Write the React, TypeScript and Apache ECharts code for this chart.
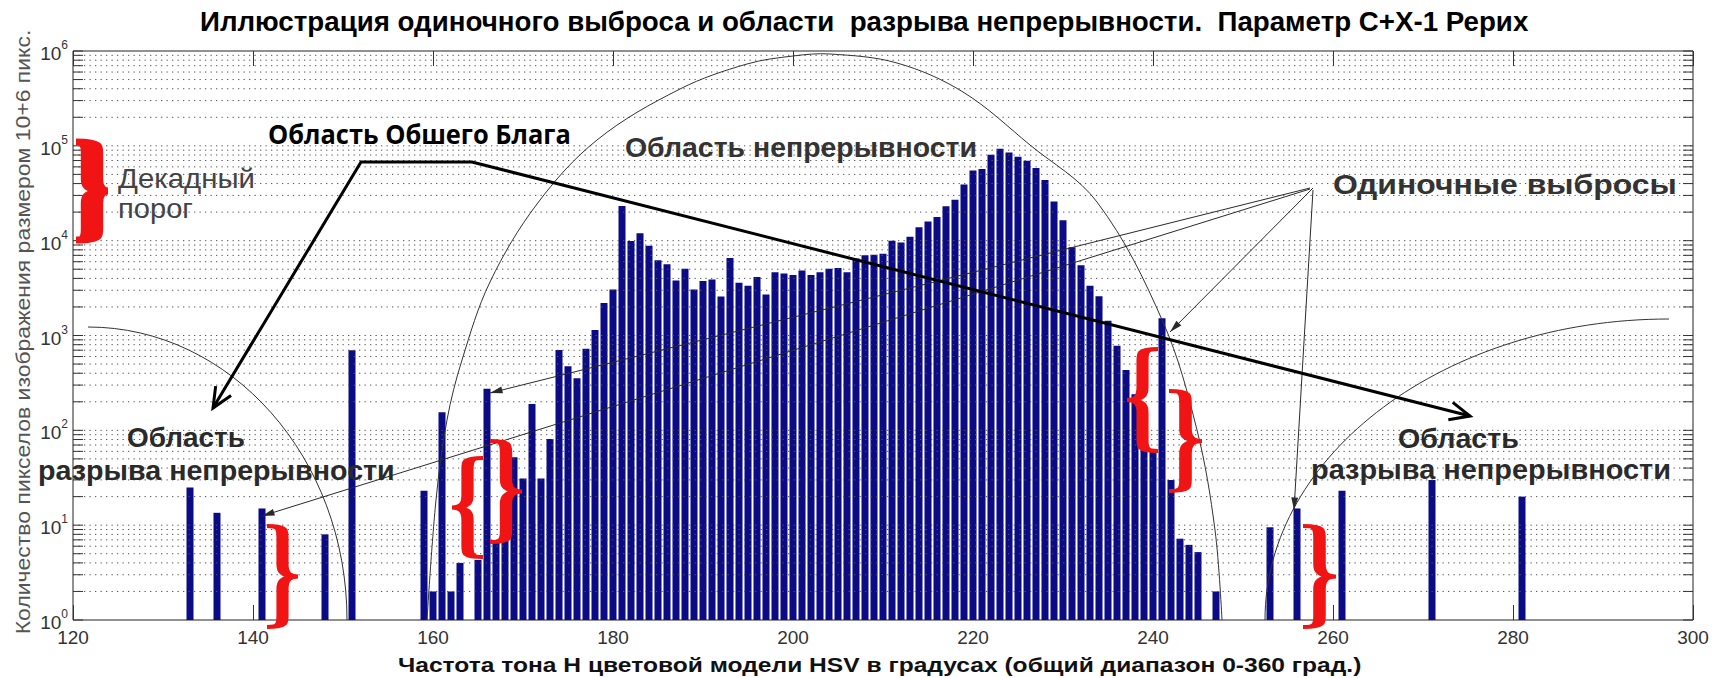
import React, { useEffect, useRef } from 'react';
import * as echarts from 'echarts';

// ---------------- data ----------------
const hues = [
  133, 136, 141, 148, 151, 159, 160, 161, 162, 163,
  165, 166, 167, 168, 169, 170, 171, 172, 173, 174,
  175, 176, 177, 178, 179, 180, 181, 182, 183, 184,
  185, 186, 187, 188, 189, 190, 191, 192, 193, 194,
  195, 196, 197, 198, 199, 200, 201, 202, 203, 204,
  205, 206, 207, 208, 209, 210, 211, 212, 213, 214,
  215, 216, 217, 218, 219, 220, 221, 222, 223, 224,
  225, 226, 227, 228, 229, 230, 231, 232, 233, 234,
  235, 236, 237, 238, 239, 240, 241, 242, 243, 244,
  245, 247, 253, 256, 261, 271, 281,
];
const counts = [
  25, 13.5, 15, 8, 700, 23, 2, 155, 2, 4,
  4.3, 275, 6.5, 9, 52, 31, 190, 31, 81, 705,
  475, 355, 725, 1140, 2200, 3050, 23200, 9900, 12000, 8850,
  6200, 5650, 3800, 5050, 3050, 3750, 3900, 2580, 6550, 3600,
  3350, 4150, 2700, 4650, 4500, 4350, 4850, 4350, 4650, 5050,
  5150, 4650, 6500, 7000, 7100, 7300, 10000, 9550, 11000, 13850,
  15950, 17800, 23000, 27000, 39000, 55000, 57000, 80500, 93000, 85000,
  76500, 69500, 58500, 43500, 25900, 16400, 8500, 5500, 3350, 2600,
  1430, 780, 432, 240, 150, 61, 1520, 30, 7.2, 6.2,
  5.2, 2, 9.5, 15, 23, 30, 20,
];
const xTickMin = 120;
const xTickMax = 300;
const xTickStep = 20;
const decades = [1, 10, 100, 1000, 10000, 100000];
const mantissas = [1, 2, 3, 4, 5, 6, 7, 8, 9];
const yTickValues: number[] = [];
decades.forEach((d) => mantissas.forEach((m) => yTickValues.push(m * d)));
yTickValues.push(1000000);

const TITLE = 'Иллюстрация одиночного выброса и области  разрыва непрерывности.  Параметр С+Х-1 Рерих';
const X_NAME = 'Частота тона Н цветовой модели HSV в градусах (общий диапазон 0-360 град.)';
const Y_NAME = 'Количество пикселов изображения размером 10+6 пикс.';

const ARIAL = '"Liberation Sans", Arial, sans-serif';
const CALIBRI = '"Open Sans", "Noto Sans", sans-serif';

// curly brace shape "}" in a 10 x 100 box
echarts.graphic.registerShape(
  'brace',
  echarts.graphic.extendPath(
    'M0,1 C5,1 5,4 5,12 L5,38 C5,46 6,50 10,50 C6,50 5,54 5,62 L5,88 C5,96 5,99 0,99',
    {}
  )
);

let measureCtx: CanvasRenderingContext2D | null = null;
function fitScale(text: string, weight: string, size: number, family: string, target: number) {
  if (!measureCtx) measureCtx = document.createElement('canvas').getContext('2d');
  if (!measureCtx) return 1;
  measureCtx.font = `${weight} ${size}px ${family}`;
  const w = measureCtx.measureText(text).width;
  if (!w) return 1;
  return Math.max(0.6, Math.min(1.6, target / w));
}

function textEl(
  text: string, x: number, y: number, width: number, size: number,
  weight: string, family: string, color: string, extra: any = {}
) {
  return {
    type: 'text',
    x, y,
    scaleX: fitScale(text, weight, size, family, width),
    z: 100,
    silent: true,
    style: {
      text, fontSize: size, fontWeight: weight, fontFamily: family, fill: color,
      align: 'left', verticalAlign: 'middle',
    },
    ...extra,
  };
}

function brace(left: number, top: number, w: number, h: number, open: boolean) {
  return {
    type: 'brace',
    x: open ? left + w : left,
    y: top,
    scaleX: (open ? -w : w) / 10,
    scaleY: h / 100,
    z: 101,
    silent: true,
    style: { stroke: '#f01414', fill: null, lineWidth: 7, strokeNoScale: true },
  };
}

function headPts(tip: number[], from: number[], len: number, ang: number) {
  const a = Math.atan2(tip[1] - from[1], tip[0] - from[0]);
  return [
    [tip[0] - len * Math.cos(a - ang), tip[1] - len * Math.sin(a - ang)],
    [tip[0], tip[1]],
    [tip[0] - len * Math.cos(a + ang), tip[1] - len * Math.sin(a + ang)],
  ];
}

function thinArrow(from: number[], tip: number[]) {
  return [
    { type: 'line', z: 99, silent: true, shape: { x1: from[0], y1: from[1], x2: tip[0], y2: tip[1] }, style: { stroke: '#2a2a2a', lineWidth: 1 } },
    { type: 'polygon', z: 99, silent: true, shape: { points: headPts(tip, from, 13, 0.27) }, style: { fill: '#2a2a2a' } },
  ];
}

function buildGraphics() {
  const els: any[] = [];
  // title and axis names
  els.push(textEl(TITLE, 200, 22, 1329, 27, 'bold', ARIAL, '#000'));
  els.push(textEl(X_NAME, 398, 665, 964, 21, 'bold', ARIAL, '#111'));
  els.push({
    type: 'text', x: 24, y: 332, rotation: Math.PI / 2,
    scaleX: fitScale(Y_NAME, 'normal', 20, ARIAL, 605), z: 100, silent: true,
    style: { text: Y_NAME, fontSize: 20, fontFamily: ARIAL, fill: '#555', align: 'center', verticalAlign: 'middle' },
  });

  // annotation texts
  els.push(textEl('Область Обшего Блага', 268, 134, 303, 27, 'bold', CALIBRI, '#000'));
  els.push(textEl('Область непрерывности', 625, 147, 352, 28, 'bold', ARIAL, '#333'));
  els.push(textEl('Одиночные выбросы', 1333, 184, 344, 27, 'bold', ARIAL, '#333'));
  els.push(textEl('Декадный', 118, 178, 137, 27, 'normal', ARIAL, '#444'));
  els.push(textEl('порог', 118, 209, 75, 27, 'normal', ARIAL, '#444'));
  els.push(textEl('Область', 127, 438, 118, 27, 'bold', ARIAL, '#2a2a2a'));
  els.push(textEl('разрыва непрерывности', 38, 471, 357, 27, 'bold', ARIAL, '#2a2a2a'));
  els.push(textEl('Область', 1398, 439, 121, 27, 'bold', ARIAL, '#2a2a2a'));
  els.push(textEl('разрыва непрерывности', 1311, 470, 360, 27, 'bold', ARIAL, '#2a2a2a'));

  // thin arcs
  els.push({
    type: 'polyline', z: 98, silent: true,
    shape: {
      points: [
        [427, 620], [436, 500], [447, 420], [462, 360], [490, 282], [537, 204],
        [597, 140], [680, 89], [747, 64], [793, 56], [830, 54], [897, 63],
        [963, 92], [1030, 145], [1097, 202], [1163, 322], [1197, 430], [1215, 530], [1222, 620],
      ],
      smooth: 0.35,
    },
    style: { stroke: '#333', lineWidth: 1, fill: null },
  });
  els.push({
    type: 'bezierCurve', z: 98, silent: true,
    shape: { x1: 88, y1: 327, cpx1: 231, cpy1: 327, cpx2: 347, cpy2: 458, x2: 347, y2: 620 },
    style: { stroke: '#333', lineWidth: 1, fill: null },
  });
  els.push({
    type: 'bezierCurve', z: 98, silent: true,
    shape: { x1: 1265, y1: 620, cpx1: 1265, cpy1: 454, cpx2: 1446, cpy2: 319, x2: 1669, y2: 319 },
    style: { stroke: '#333', lineWidth: 1, fill: null },
  });

  // thick black arrow
  const thick = [[213, 408], [361, 162], [472, 162], [1470, 416]];
  els.push({ type: 'polyline', z: 102, silent: true, shape: { points: thick }, style: { stroke: '#000', lineWidth: 3, fill: null } });
  els.push({ type: 'polyline', z: 102, silent: true, shape: { points: headPts(thick[0], thick[1], 22, 0.42) }, style: { stroke: '#000', lineWidth: 3, fill: null } });
  els.push({ type: 'polyline', z: 102, silent: true, shape: { points: headPts(thick[3], thick[2], 22, 0.42) }, style: { stroke: '#000', lineWidth: 3, fill: null } });

  // thin arrows from "Одиночные выбросы"
  els.push(...thinArrow([1310, 188], [490, 393]));
  els.push(...thinArrow([1310, 189], [262, 516]));
  els.push(...thinArrow([1313, 188], [1170, 332]));
  els.push(...thinArrow([1313, 190], [1294, 510]));

  // red braces
  els.push(brace(76, 141, 32, 100, false));
  els.push(brace(267, 525, 31, 103, false));
  els.push(brace(452, 457, 31, 101, true));
  els.push(brace(490, 440, 32, 103, false));
  els.push(brace(1127, 348, 31, 104, true));
  els.push(brace(1169, 390, 33, 102, false));
  els.push(brace(1303, 525, 33, 103, false));
  return els;
}

function buildOption() {
  const xAxisCommon = {
    type: 'value', min: xTickMin, max: xTickMax, interval: xTickStep,
    axisLine: { show: false },
    splitLine: { show: false },
  };
  return {
    animation: false,
    backgroundColor: '#ffffff',
    grid: { left: 73, right: 21, top: 51, bottom: 58, show: true, borderColor: '#222', borderWidth: 1, backgroundColor: 'transparent' },
    xAxis: [
      {
        ...xAxisCommon, position: 'bottom',
        axisTick: { inside: true, length: 15, lineStyle: { color: '#333' } },
        axisLabel: { fontSize: 19, color: '#333', margin: 8, fontFamily: ARIAL },
      },
      {
        ...xAxisCommon, position: 'top',
        axisTick: { inside: true, length: 15, lineStyle: { color: '#333' } },
        axisLabel: { show: false },
      },
    ],
    yAxis: {
      type: 'log', logBase: 10, min: 1, max: 1000000,
      axisLine: { show: false }, axisTick: { show: false }, splitLine: { show: false },
      axisLabel: {
        margin: 5,
        formatter: (v: number) => '{b|10}{s|' + Math.round(Math.log10(v)) + '}',
        rich: {
          b: { fontSize: 19, color: '#333', fontFamily: ARIAL, lineHeight: 24, verticalAlign: 'bottom' },
          s: { fontSize: 12, color: '#333', fontFamily: ARIAL, lineHeight: 24, verticalAlign: 'top' },
        },
      },
    },
    graphic: buildGraphics(),
    series: [
      {
        type: 'bar',
        xAxisIndex: 0,
        data: hues.map((h, i) => [h, counts[i]]),
        barWidth: 7,
        itemStyle: { color: '#0b0b86' },
        z: 2,
      },
      {
        type: 'custom',
        xAxisIndex: 0,
        silent: true,
        z: 3,
        data: yTickValues.map((v) => [xTickMin, v]),
        encode: { x: 0, y: 1 },
        renderItem: (_params: any, api: any) => {
          const v = api.value(1);
          const p0 = api.coord([xTickMin, v]);
          const p1 = api.coord([xTickMax, v]);
          const children: any[] = [];
          if (v > 1 && v < 1000000) {
            children.push({
              type: 'line',
              shape: { x1: p0[0], y1: p0[1], x2: p1[0], y2: p1[1] },
              style: { stroke: '#555', lineWidth: 1, lineDash: [1.3, 4.2] },
            });
          }
          const len = 10;
          children.push({ type: 'line', shape: { x1: p0[0], y1: p0[1], x2: p0[0] + len, y2: p0[1] }, style: { stroke: '#333', lineWidth: 1 } });
          children.push({ type: 'line', shape: { x1: p1[0], y1: p1[1], x2: p1[0] - len, y2: p1[1] }, style: { stroke: '#333', lineWidth: 1 } });
          return { type: 'group', children };
        },
      },
    ],
  };
}

export default function App() {
  const ref = useRef<HTMLDivElement>(null);
  useEffect(() => {
    if (!ref.current) return;
    const chart = echarts.init(ref.current, null, { renderer: 'svg' });
    chart.setOption(buildOption() as any);
    return () => chart.dispose();
  }, []);
  return (
    <div
      ref={ref}
      style={{ position: 'absolute', left: 0, top: 0, width: 1714, height: 678, background: '#fff' }}
    />
  );
}
